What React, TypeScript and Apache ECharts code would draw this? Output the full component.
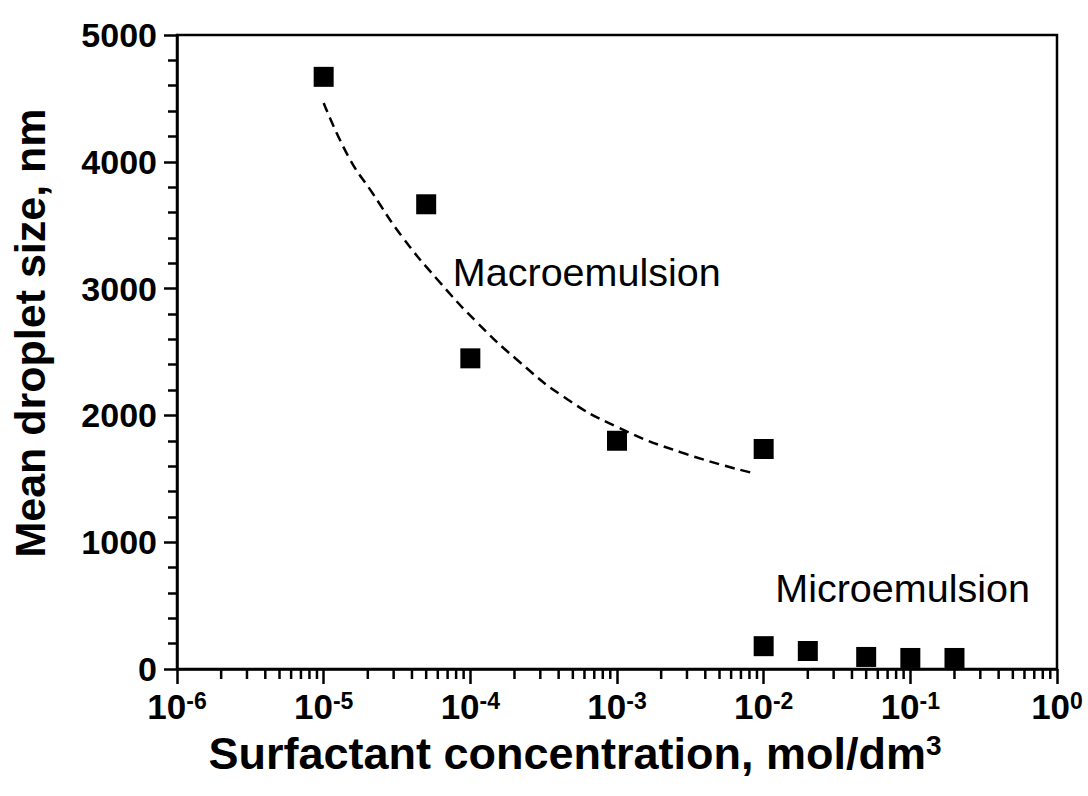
import React, { useEffect, useRef } from "react";
import * as echarts from "echarts";

// Measured data points: surfactant concentration (mol/dm3) vs mean droplet size (nm)
const concentrations = [1e-5, 5e-5, 1e-4, 1e-3, 1e-2, 1e-2, 2e-2, 5e-2, 1e-1, 2e-1];
const dropletSizes = [4670, 3665, 2450, 1800, 1735, 180, 142, 95, 87, 87];

// Dashed trend curve
const curveX = [1e-5, 1.48e-5, 2.15e-5, 3.44e-5, 6.0e-5, 1.12e-4, 2.09e-4, 4.35e-4, 1e-3, 2.83e-3, 8.4e-3];
const curveY = [4464, 4038, 3754, 3407, 3068, 2729, 2437, 2145, 1909, 1703, 1546];

// Annotations
const annotationTexts = ["Macroemulsion", "Microemulsion"];
const annotationX = [7.6e-5, 1.2e-2];
const annotationY = [3131, 639];

// Axes
const xMin = 1e-6;
const xMax = 1;
const yMin = 0;
const yMax = 5000;
const yInterval = 1000;
const xTitle = "Surfactant concentration, mol/dm";
const xTitleSup = "3";
const yTitle = "Mean droplet size, nm";

const FONT = "'Liberation Sans', Arial, Helvetica, sans-serif";

function minorLogTicks(): number[][] {
  const out: number[][] = [];
  for (let e = -6; e < 0; e++) {
    for (let k = 2; k <= 9; k++) {
      out.push([k * Math.pow(10, e), 0]);
    }
  }
  return out;
}

export default function App() {
  const ref = useRef<HTMLDivElement>(null);
  useEffect(() => {
    if (!ref.current) return;
    const chart = echarts.init(ref.current, null, { renderer: "svg" });
    const option: any = {
      animation: false,
      backgroundColor: "#fff",
      grid: {
        left: 170,
        right: 31,
        top: 35,
        bottom: 127,
        show: true,
        borderColor: "#000",
        borderWidth: 2.5,
        backgroundColor: "transparent",
      },
      xAxis: {
        type: "log",
        logBase: 10,
        min: xMin,
        max: xMax,
        name: `{t|${xTitle}}{s|${xTitleSup}}`,
        nameLocation: "middle",
        nameGap: 62,
        nameTextStyle: {
          padding: [0, 84, 0, 0],
          rich: {
            t: { fontFamily: FONT, fontWeight: "bold", fontSize: 45, color: "#000" },
            s: { fontFamily: FONT, fontWeight: "bold", fontSize: 28, color: "#000", verticalAlign: "top" },
          },
        },
        axisLine: { show: true, onZero: false, lineStyle: { color: "#000", width: 2.5 } },
        axisTick: { show: true, inside: false, length: 15, lineStyle: { color: "#000", width: 2.5 } },
        splitLine: { show: false },
        axisLabel: {
          margin: 20,
          formatter: (v: number) => `{b|10}{s|${Math.round(Math.log10(v))}}`,
          rich: {
            b: { fontFamily: FONT, fontWeight: "bold", fontSize: 35, color: "#000" },
            s: { fontFamily: FONT, fontWeight: "bold", fontSize: 23, color: "#000", verticalAlign: "top" },
          },
        },
      },
      yAxis: {
        type: "value",
        min: yMin,
        max: yMax,
        interval: yInterval,
        name: yTitle,
        nameLocation: "middle",
        nameRotate: 90,
        nameGap: 126,
        nameTextStyle: {
          fontFamily: FONT,
          fontWeight: "bold",
          fontSize: 43,
          color: "#000",
          padding: [0, 0, 0, 38],
        },
        axisLine: { show: true, lineStyle: { color: "#000", width: 2.5 } },
        axisTick: { show: true, inside: false, length: 13, lineStyle: { color: "#000", width: 2.5 } },
        minorTick: { show: true, splitNumber: 5, length: 9, lineStyle: { color: "#000", width: 2.5 } },
        splitLine: { show: false },
        minorSplitLine: { show: false },
        axisLabel: {
          margin: 20,
          fontFamily: FONT,
          fontWeight: "bold",
          fontSize: 34,
          color: "#000",
          formatter: (v: number) => String(v),
        },
      },
      series: [
        {
          type: "custom",
          name: "minorTicks",
          silent: true,
          clip: false,
          z: 10,
          data: minorLogTicks(),
          encode: { x: 0, y: 1 },
          renderItem: (params: any, api: any) => {
            const p = api.coord([api.value(0), 0]);
            return {
              type: "line",
              shape: { x1: p[0], y1: p[1], x2: p[0], y2: p[1] + 10 },
              style: { stroke: "#000", lineWidth: 2.5 },
            };
          },
        },
        {
          type: "line",
          name: "fit",
          data: curveX.map((x, i) => [x, curveY[i]]),
          smooth: true,
          showSymbol: false,
          symbol: "none",
          lineStyle: { color: "#000", width: 2.5, type: [10, 6], opacity: 1 },
          z: 3,
        },
        {
          type: "scatter",
          name: "data",
          data: concentrations.map((x, i) => [x, dropletSizes[i]]),
          symbol: "rect",
          symbolSize: 20,
          itemStyle: { color: "#000", opacity: 1 },
          z: 4,
        },
        {
          type: "scatter",
          name: "annotations",
          data: annotationX.map((x, i) => ({ value: [x, annotationY[i]], name: annotationTexts[i] })),
          symbolSize: 0,
          silent: true,
          itemStyle: { opacity: 1 },
          label: {
            show: true,
            position: "right",
            distance: 0,
            formatter: (p: any) => p.name,
            fontFamily: FONT,
            fontSize: 39.5,
            color: "#000",
            opacity: 1,
          },
        },
      ],
    };
    chart.setOption(option);
    return () => chart.dispose();
  }, []);
  return (
    <div
      ref={ref}
      style={{ position: "fixed", left: 0, top: 0, width: 1088, height: 796, background: "#fff" }}
    />
  );
}
